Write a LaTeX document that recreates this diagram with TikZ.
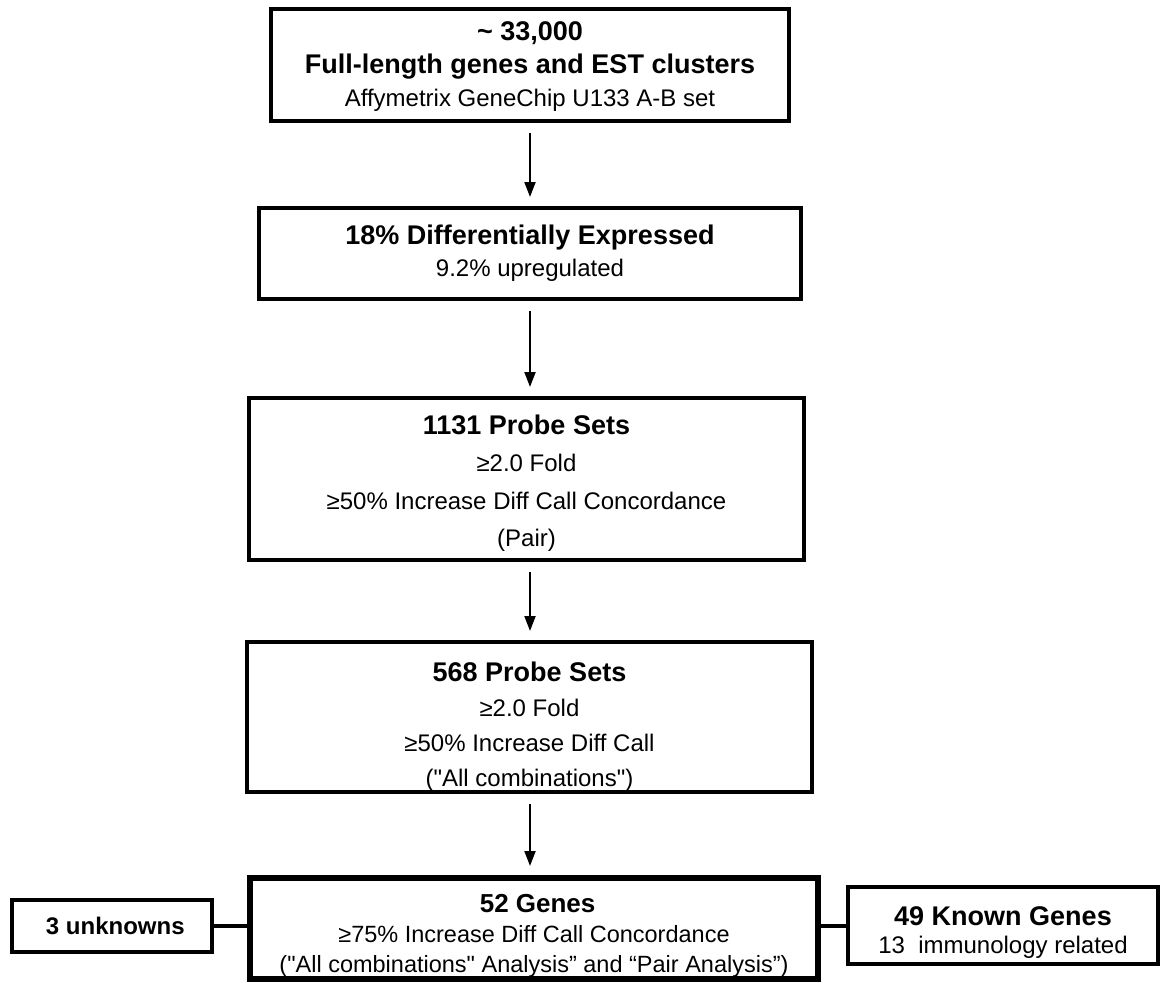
\documentclass[tikz,border=0pt]{standalone}
\usepackage{fontspec}
\setmainfont{Liberation Sans}
\newfontfamily\qfont{Liberation Sans}
\usetikzlibrary{arrows.meta}
\newcommand\hdfont[1][27]{\fontsize{#1}{\baselineskip}\selectfont\bfseries}
\newcommand\dq{{\qfont"}}
\newcommand\topstrut[1]{\rule{0pt}{#1}}
\begin{document}
\begin{tikzpicture}[x=1pt,y=-1pt,
  box/.style={draw, line width=4pt, rectangle, inner sep=0pt, align=center},
  conn/.style={draw, line width=4pt},
  arr/.style={draw, line width=2pt, -{Triangle[length=15pt,width=11pt]}, shorten <=10pt, shorten >=9pt}]
\useasboundingbox (0,0) rectangle (1168,983);
\node[box, minimum width=518pt, minimum height=112pt, font=\fontsize{24}{33}\selectfont] (b1) at (530,65)
  {\topstrut{22pt}{\hdfont\textasciitilde\ 33,000}\\{\hdfont Full-length genes and EST clusters}\\Affymetrix GeneChip U133 A-B set};
\node[box, minimum width=542pt, minimum height=91pt, font=\fontsize{24}{32}\selectfont] (b2) at (530,253.5)
  {{\hdfont 18\% Differentially Expressed}\\9.2\% upregulated};
\node[box, minimum width=555pt, minimum height=162pt, font=\fontsize{24}{37.5}\selectfont] (b3) at (526.5,479)
  {\topstrut{28pt}{\hdfont 1131 Probe Sets}\\≥2.0 Fold\\≥50\% Increase Diff Call Concordance\\(Pair)};
\node[box, minimum width=565pt, minimum height=150pt, font=\fontsize{24}{35}\selectfont] (b4) at (529.5,717)
  {\topstrut{38pt}{\hdfont 568 Probe Sets}\\≥2.0 Fold\\≥50\% Increase Diff Call\\(\dq All combinations\dq)};
\node[box, line width=6pt, minimum width=568pt, minimum height=101pt, font=\fontsize{23.5}{30}\selectfont] (b5) at (534,928.5)
  {\topstrut{32pt}{\hdfont[26] 52 Genes}\\≥75\% Increase Diff Call Concordance\\(\dq All combinations\dq\ Analysis” and “Pair Analysis”)};
\node[box, minimum width=200pt, minimum height=52pt, font=\fontsize{24}{28}\selectfont] (lb) at (112,926)
  {{\hdfont[24] 3 unknowns}};
\node[box, minimum width=310pt, minimum height=77pt, font=\fontsize{24}{28}\selectfont] (rb) at (1003,925.5)
  {\topstrut{32pt}{\hdfont 49 Known Genes}\\13~~immunology related};
\draw[conn] (lb.east) -- (lb.east -| b5.west);
\draw[conn] (b5.east |- rb.west) -- (rb.west);
\draw[arr] (b1.south) -- (b1.south |- b2.north);
\draw[arr] (b1.south |- b2.south) -- (b1.south |- b3.north);
\draw[arr] (b1.south |- b3.south) -- (b1.south |- b4.north);
\draw[arr] (b1.south |- b4.south) -- (b1.south |- b5.north);
\end{tikzpicture}
\end{document}
